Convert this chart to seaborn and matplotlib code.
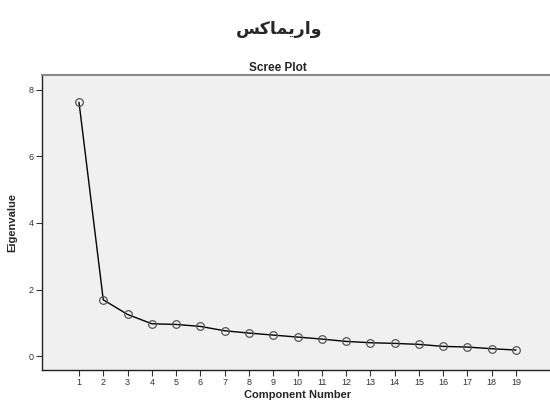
import matplotlib
matplotlib.use("Agg")
import matplotlib.pyplot as plt
import seaborn as sns
import pandas as pd

components = list(range(1, 20))
eigenvalues = [7.63, 1.69, 1.25, 0.97, 0.95, 0.89, 0.76, 0.69, 0.63, 0.57,
               0.51, 0.44, 0.40, 0.38, 0.35, 0.29, 0.27, 0.22, 0.18]
y_ticks = [0, 2, 4, 6, 8]

# "واریماکس" shaped with Arabic presentation forms in visual order
title_text = "\uFEB2\uFB90\uFE8E\uFEE4\uFBFE\uFEAD\uFE8D\uFEED"

df = pd.DataFrame({"Component Number": components, "Eigenvalue": eigenvalues})

sns.set_theme(style="white")
plt.rcParams["font.family"] = ["Liberation Sans", "DejaVu Sans"]

fig = plt.figure(figsize=(5.5, 4.01), dpi=100)
ax = fig.add_axes([42/550, 31/401, 1 - 42/550, (370-75)/401])
ax.set_facecolor("#f0f0f0")

sns.lineplot(data=df, x="Component Number", y="Eigenvalue", ax=ax,
             color="black", linewidth=1.0, marker="o", markersize=5.5,
             markerfacecolor="none", markeredgecolor="#555555",
             markeredgewidth=0.9)

ax.set_xlim(-0.524, 20.40)
ax.set_ylim(-0.42, 8.45)
ax.set_xticks(components)
ax.set_yticks(y_ticks)
ax.tick_params(axis="both", direction="out", length=4, width=0.8,
               labelsize=6.5, colors="#333333", pad=2, bottom=True, left=True)

for s in ["left", "bottom"]:
    ax.spines[s].set_color("#222222")
    ax.spines[s].set_linewidth(1.0)
ax.spines["right"].set_visible(False)
ax.spines["top"].set_color("#888888")
ax.spines["top"].set_linewidth(1.5)

ax.set_xlabel("Component Number", fontsize=8, fontweight="bold")
ax.xaxis.set_label_coords((298 - 42) / 508, -0.068)
ax.set_ylabel("Eigenvalue", fontsize=8, fontweight="bold", labelpad=8)
ax.set_title("Scree Plot", fontsize=8.5, fontweight="bold", pad=3,
             x=(278 - 42) / 508)

fig.text(279/550, 1 - 29/401, title_text, ha="center", va="center",
         fontsize=12.5, fontweight="bold", family=["DejaVu Sans"])

fig.savefig("out.png", dpi=100)
